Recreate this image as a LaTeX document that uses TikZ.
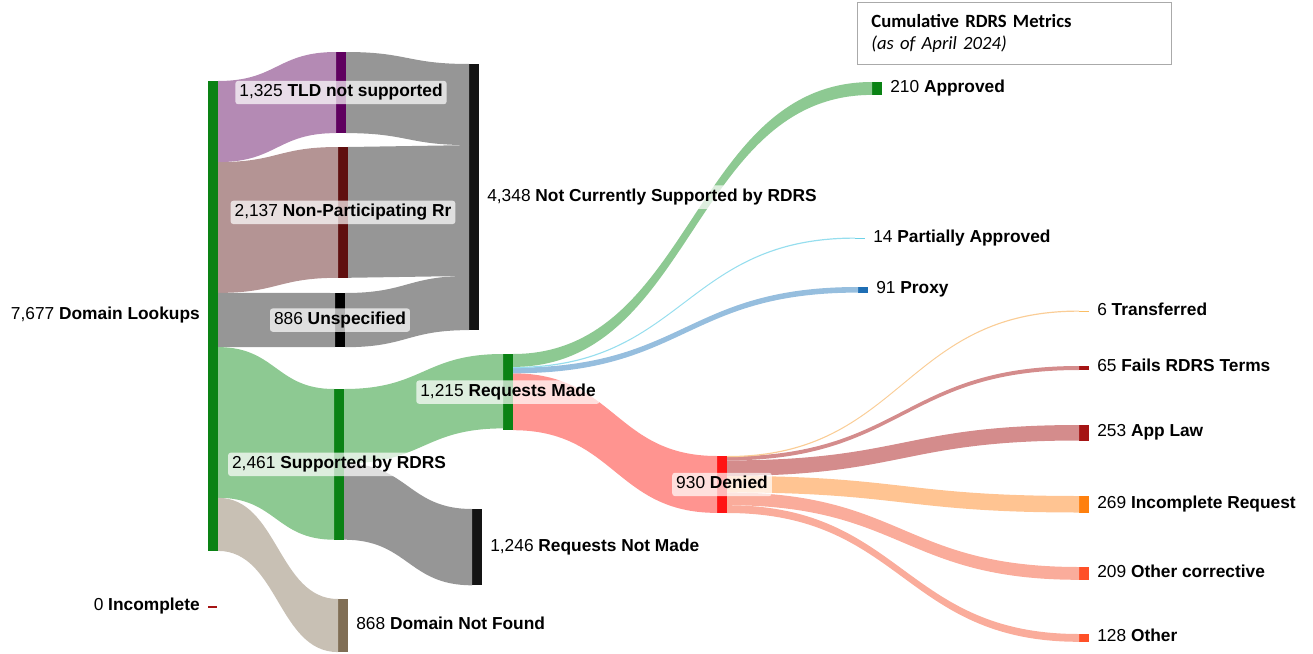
\documentclass[tikz,border=0pt]{standalone}
\usepackage{fontspec}
\setmainfont{Liberation Sans}
\newfontfamily\calfont{Carlito}
\usetikzlibrary{calc,positioning}
\definecolor{nodegreen}{RGB}{10,130,20}
\definecolor{nodepurple}{RGB}{95,0,95}
\definecolor{nodemaroon}{RGB}{95,15,15}
\definecolor{nodeblack}{RGB}{20,20,20}
\definecolor{nodebrown}{RGB}{128,110,85}
\definecolor{nodecyan}{RGB}{110,210,232}
\definecolor{nodeblue}{RGB}{30,110,180}
\definecolor{nodered}{RGB}{255,20,20}
\definecolor{nodepeach}{RGB}{250,190,100}
\definecolor{nodedark}{RGB}{165,20,20}
\definecolor{nodeorange}{RGB}{255,128,14}
\definecolor{nodecoral}{RGB}{255,80,40}
\definecolor{flowpurple}{RGB}{180,138,180}
\definecolor{flowrose}{RGB}{180,148,148}
\definecolor{flowgray}{RGB}{150,150,150}
\definecolor{flowgreen}{RGB}{141,201,146}
\definecolor{flowtan}{RGB}{200,192,180}
\definecolor{flowred}{RGB}{255,148,144}
\definecolor{flowcyan}{RGB}{150,222,238}
\definecolor{flowblue}{RGB}{150,190,222}
\definecolor{flowpeach}{RGB}{250,205,150}
\definecolor{flowmaroon}{RGB}{212,140,140}
\definecolor{flowamber}{RGB}{255,196,146}
\definecolor{flowcoral}{RGB}{250,172,155}
\tikzset{bar/.style={fill=#1, inner sep=0pt, outer sep=0pt, minimum width=7.5pt, anchor=north west},
  span/.style={minimum height={#1*0.75pt}},
  lbl/.style={fill=white, fill opacity=0.7, text opacity=1, rounded corners=2pt, inner xsep=3pt, inner ysep=2.5pt,
    text height=9.2pt, text depth=3.3pt, font=\fontsize{13}{15}\selectfont},
  titlebox/.style={draw={rgb,255:red,170;green,170;blue,170}, line width=0.6pt, anchor=north west, align=left,
    text width=214.5pt, inner xsep=10.5pt, minimum height=46.5pt, font=\calfont\fontsize{14}{16.5}\selectfont}}
% band from #2 (offset #3, width #4) to #5 (offset #6)
\newcommand\flow[6]{%
  \fill[#1] let \p1=($(#2.north east)+(0,#3)$), \p2=($(#2.north east)+(0,#3+#4)$),
    \p3=($(#5.north west)+(0,#6)$), \p4=($(#5.north west)+(0,#6+#4)$) in
    (\p1) .. controls ({(\x1+\x3)/2},\y1) and ({(\x1+\x3)/2},\y3) .. (\p3)
    -- (\p4) .. controls ({(\x1+\x3)/2},\y4) and ({(\x1+\x3)/2},\y2) .. (\p2) -- cycle;}

\begin{document}
\begin{tikzpicture}[x=0.75pt,y=-0.75pt]
  \useasboundingbox (0,0) rectangle (1313,653);
  \node[bar=nodegreen, span=470] (dl) at (208,81) {};
  \node[bar=nodepurple, span=81.1] (tld) at (336,52) {};
  \node[bar=nodemaroon, span=130.8] (npr) at (338,147) {};
  \node[bar=black, span=54.2] (uns) at (335,293) {};
  \node[bar=nodeblack, span=266.2] (ncs) at (469,64) {};
  \node[bar=nodegreen, span=150.7] (sup) at (334,389) {};
  \node[bar=nodebrown, span=53.1] (dnf) at (338,599) {};
  \node[bar=nodedark, span=1.8, minimum width=6.75pt] (inc) at (208,606) {};
  \node[bar=nodegreen, span=76.2] (rqm) at (503,354) {};
  \node[bar=nodeblack, span=76.3] (rnm) at (472,509) {};
  \node[bar=nodegreen, span=12.9] (apr) at (872,82) {};
  \node[bar=nodecyan, span=1.2] (par) at (855,237.5) {};
  \node[bar=nodeblue, span=5.6] (prx) at (858,287) {};
  \node[bar=nodered, span=56.9] (den) at (717,456) {};
  \node[bar=nodepeach, span=1.2] (trf) at (1079,310.5) {};
  \node[bar=nodedark, span=4] (frt) at (1079,366) {};
  \node[bar=nodedark, span=15.5] (apl) at (1079,425) {};
  \node[bar=nodeorange, span=16.5] (icr) at (1079,496) {};
  \node[bar=nodecoral, span=12.8] (ocr) at (1079,567) {};
  \node[bar=nodecoral, span=7.8] (oth) at (1079,634) {};

  \flow{flowpurple}{dl}{0}{81.1}{tld}{0}
  \flow{flowrose}{dl}{81.1}{130.8}{npr}{0}
  \flow{flowgray}{dl}{211.9}{54.2}{uns}{0}
  \flow{flowgreen}{dl}{266.1}{150.7}{sup}{0}
  \flow{flowtan}{dl}{416.8}{53.1}{dnf}{0}
  \flow{flowgray}{tld}{0}{81.1}{ncs}{0}
  \flow{flowgray}{npr}{0}{130.8}{ncs}{81.1}
  \flow{flowgray}{uns}{0}{54.2}{ncs}{211.9}
  \flow{flowgreen}{sup}{0}{74.4}{rqm}{0}
  \flow{flowgray}{sup}{74.4}{76.3}{rnm}{0}
  \flow{flowred}{rqm}{19.3}{56.9}{den}{0}
  \flow{flowblue}{rqm}{13.7}{5.6}{prx}{0}
  \flow{flowcyan}{rqm}{12.9}{1.2}{par}{0}
  \flow{flowgreen}{rqm}{0}{12.9}{apr}{0}
  \flow{flowcoral}{den}{49.2}{7.8}{oth}{0}
  \flow{flowcoral}{den}{36.4}{12.8}{ocr}{0}
  \flow{flowamber}{den}{19.9}{16.5}{icr}{0}
  \flow{flowmaroon}{den}{4.4}{15.5}{apl}{0}
  \flow{flowmaroon}{den}{0.4}{4}{frt}{0}
  \flow{flowpeach}{den}{0}{1.2}{trf}{0}

  \node[lbl, left=3pt of dl] {7,677 \textbf{Domain Lookups}};
  \node[lbl] at (tld) {1,325 \textbf{TLD not supported}};
  \node[lbl] at (npr) {2,137 \textbf{Non-Participating Rr}};
  \node[lbl] at (uns) {886 \textbf{Unspecified}};
  \node[lbl, right=3pt of ncs] {4,348 \textbf{Not Currently Supported by RDRS}};
  \node[lbl] at (sup) {2,461 \textbf{Supported by RDRS}};
  \node[lbl, right=3pt of dnf] {868 \textbf{Domain Not Found}};
  \node[lbl, left=3pt of inc] {0 \textbf{Incomplete}};
  \node[lbl] at (rqm) {1,215 \textbf{Requests Made}};
  \node[lbl, right=3pt of rnm] {1,246 \textbf{Requests Not Made}};
  \node[lbl, right=3pt of apr] {210 \textbf{Approved}};
  \node[lbl, right=3pt of par] {14 \textbf{Partially Approved}};
  \node[lbl, right=3pt of prx] {91 \textbf{Proxy}};
  \node[lbl] at (den) {930 \textbf{Denied}};
  \node[lbl, right=3pt of trf] {6 \textbf{Transferred}};
  \node[lbl, right=3pt of frt] {65 \textbf{Fails RDRS Terms}};
  \node[lbl, right=3pt of apl] {253 \textbf{App Law}};
  \node[lbl, right=3pt of icr] {269 \textbf{Incomplete Request}};
  \node[lbl, right=3pt of ocr] {209 \textbf{Other corrective}};
  \node[lbl, right=3pt of oth] {128 \textbf{Other}};

  \node[titlebox] (ttl) at (857,2) {\textbf{Cumulative RDRS Metrics}\\\textit{(as of April 2024)}};
\end{tikzpicture}
\end{document}
